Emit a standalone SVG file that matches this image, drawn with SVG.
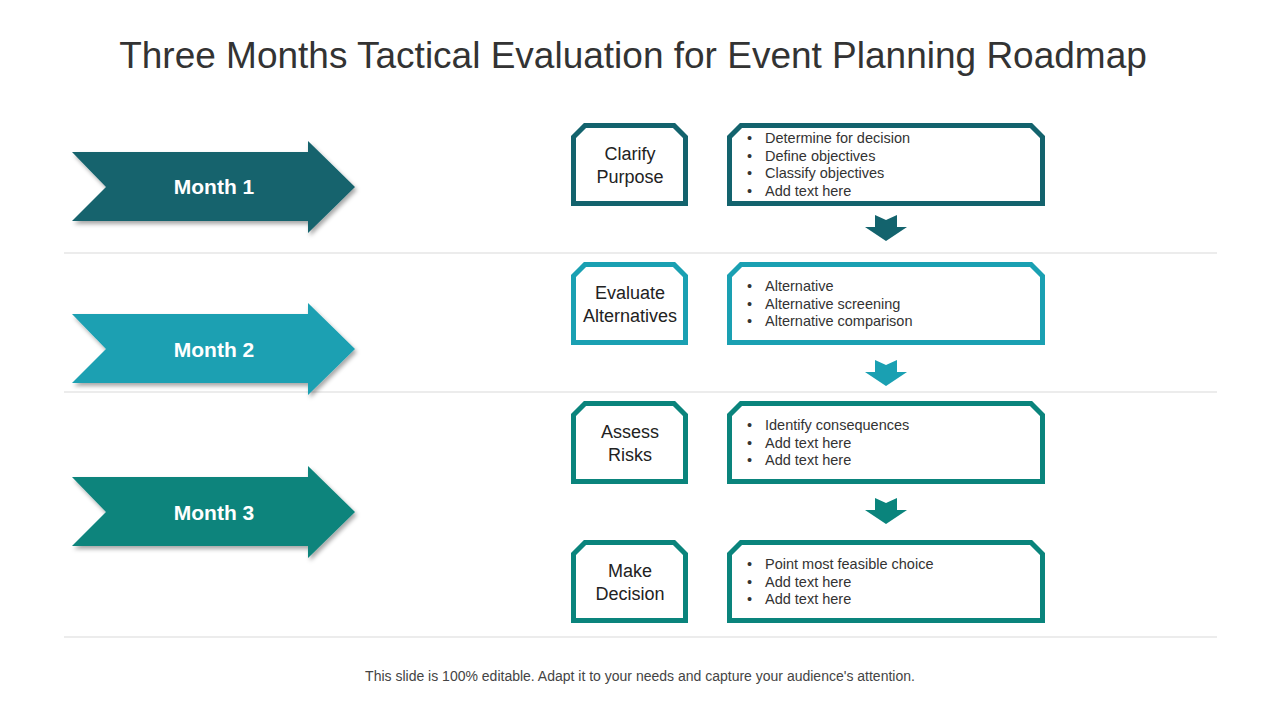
<svg xmlns="http://www.w3.org/2000/svg" width="1280" height="720" viewBox="0 0 1280 720">
<defs>
<filter id="sh" x="-10%" y="-10%" width="130%" height="130%"><feDropShadow dx="2" dy="3" stdDeviation="2" flood-opacity="0.35"/></filter>
<polygon id="mon" points="72,152 308,152 308,141 355,187 308,233 308,221 72,221 106,187"/>
<path id="bl" d="M585,125.5 L674,125.5 L685.5,137 L685.5,203.5 L573.5,203.5 L573.5,137 Z"/>
<path id="br" d="M741,125.5 L1031,125.5 L1042.5,137 L1042.5,203.5 L729.5,203.5 L729.5,137 Z"/>
<polygon id="dn" points="875,215 886,220 897,215 897,227 907,227 886,241 865,227 875,227"/>
</defs>
<style>
text{font-family:"Liberation Sans",Arial,sans-serif}
.m{fill:#fff;font-size:21px;font-weight:bold;text-anchor:middle}
.t{fill:#222;font-size:18px;text-anchor:middle}
.b{fill:#333;font-size:14.5px}
.box{fill:#fff;stroke-width:5}
.sep{stroke:#d9d9d9;stroke-width:1}
</style>
<rect width="1280" height="720" fill="#fff"/>
<text x="633" y="68" font-size="37" fill="#333" text-anchor="middle" style="font-family:'Liberation Sans',Arial,sans-serif">Three Months Tactical Evaluation for Event Planning Roadmap</text>
<g id="separators">
<line class="sep" x1="64" y1="253" x2="1217" y2="253"/>
<line class="sep" x1="64" y1="392" x2="1217" y2="392"/>
<line class="sep" x1="64" y1="637" x2="1217" y2="637"/>
</g>
<g id="month1"><use href="#mon" fill="#13636d" filter="url(#sh)"/><text class="m" x="214" y="194">Month 1</text></g>
<g id="month2" transform="translate(0,162)"><use href="#mon" fill="#1aa0b2" filter="url(#sh)"/><text class="m" x="214" y="195">Month 2</text></g>
<g id="month3" transform="translate(0,325)"><use href="#mon" fill="#0a847c" filter="url(#sh)"/><text class="m" x="214" y="195">Month 3</text></g>

<g id="clarify"><use href="#bl" class="box" stroke="#13636d"/><text class="t" x="630" y="160">Clarify</text><text class="t" x="630" y="183">Purpose</text></g>
<g id="clarify-list"><use href="#br" class="box" stroke="#13636d"/>
<text class="b" x="747" y="143">•</text><text class="b" x="765" y="143">Determine for decision</text>
<text class="b" x="747" y="161">•</text><text class="b" x="765" y="161">Define objectives</text>
<text class="b" x="747" y="178">•</text><text class="b" x="765" y="178">Classify objectives</text>
<text class="b" x="747" y="196">•</text><text class="b" x="765" y="196">Add text here</text></g>

<g id="evaluate" transform="translate(0,139)"><use href="#bl" class="box" stroke="#1aa0b2"/><text class="t" x="630" y="160">Evaluate</text><text class="t" x="630" y="183">Alternatives</text></g>
<g id="evaluate-list" transform="translate(0,139)"><use href="#br" class="box" stroke="#1aa0b2"/>
<text class="b" x="747" y="152">•</text><text class="b" x="765" y="152">Alternative</text>
<text class="b" x="747" y="170">•</text><text class="b" x="765" y="170">Alternative  screening</text>
<text class="b" x="747" y="187">•</text><text class="b" x="765" y="187">Alternative  comparison</text></g>

<g id="assess" transform="translate(0,278)"><use href="#bl" class="box" stroke="#0a847c"/><text class="t" x="630" y="160">Assess</text><text class="t" x="630" y="183">Risks</text></g>
<g id="assess-list" transform="translate(0,278)"><use href="#br" class="box" stroke="#0a847c"/>
<text class="b" x="747" y="152">•</text><text class="b" x="765" y="152">Identify consequences</text>
<text class="b" x="747" y="170">•</text><text class="b" x="765" y="170">Add text here</text>
<text class="b" x="747" y="187">•</text><text class="b" x="765" y="187">Add text here</text></g>

<g id="decision" transform="translate(0,417)"><use href="#bl" class="box" stroke="#0a847c"/><text class="t" x="630" y="160">Make</text><text class="t" x="630" y="183">Decision</text></g>
<g id="decision-list" transform="translate(0,417)"><use href="#br" class="box" stroke="#0a847c"/>
<text class="b" x="747" y="152">•</text><text class="b" x="765" y="152">Point most feasible choice</text>
<text class="b" x="747" y="170">•</text><text class="b" x="765" y="170">Add text here</text>
<text class="b" x="747" y="187">•</text><text class="b" x="765" y="187">Add text here</text></g>

<g id="connectors">
<use href="#dn" fill="#13636d"/>
<use href="#dn" fill="#1aa0b2" transform="translate(0,145)"/>
<use href="#dn" fill="#0a847c" transform="translate(0,283)"/>
</g>
<text x="640" y="681" font-size="14" fill="#444" text-anchor="middle">This slide is 100% editable. Adapt it to your needs and capture your audience's attention.</text>
</svg>
